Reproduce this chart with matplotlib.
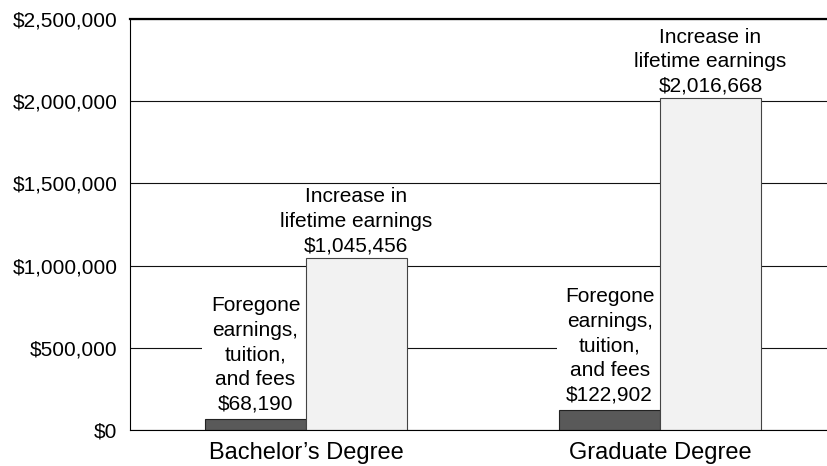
import matplotlib
matplotlib.use("Agg")
import matplotlib.pyplot as plt
import numpy as np
from matplotlib.ticker import FuncFormatter, MultipleLocator

plt.rcParams["font.family"] = ["Liberation Sans", "DejaVu Sans"]

# ── data ──────────────────────────────────────────────
degrees = ["Bachelor\u2019s Degree", "Graduate Degree"]
cost = [68190, 122902]
gain = [1045456, 2016668]
cost_label = "Foregone\nearnings,\ntuition,\nand fees"
gain_label = "Increase in\nlifetime earnings"

# ── figure ────────────────────────────────────────────
fig = plt.figure(figsize=(8.28, 4.66), dpi=100)
ax = fig.add_axes([130 / 828, 36 / 466, 700 / 828, 411 / 466])

x = np.arange(len(degrees))
w = 0.285
bars_cost = ax.bar(x - w / 2, cost, w, color="#595959", edgecolor="#222222", linewidth=0.8, zorder=1)
bars_gain = ax.bar(x + w / 2, gain, w, color="#f2f2f2", edgecolor="#444444", linewidth=0.8, zorder=1)

for b, v in zip(bars_cost, cost):
    ax.annotate(f"{cost_label}\n${v:,.0f}", xy=(b.get_x() + b.get_width() / 2, v),
                xytext=(0, 4), textcoords="offset points", ha="center", va="bottom",
                multialignment="center", fontsize=15, linespacing=1.37, zorder=0.9,
                bbox=dict(facecolor="white", edgecolor="none", pad=6))
for b, v in zip(bars_gain, gain):
    ax.annotate(f"{gain_label}\n${v:,.0f}", xy=(b.get_x() + b.get_width() / 2, v),
                xytext=(0, 2), textcoords="offset points", ha="center", va="bottom",
                multialignment="center", fontsize=15, linespacing=1.37, zorder=3)

ax.set_ylim(0, 2500000)
ax.set_xlim(-0.497, 1.48)
ax.yaxis.set_major_locator(MultipleLocator(500000))
ax.yaxis.set_major_formatter(FuncFormatter(lambda v, p: f"${v:,.0f}"))
ax.set_xticks(x)
ax.set_xticklabels(degrees)
ax.tick_params(axis="y", length=0, pad=9, labelsize=15)
ax.tick_params(axis="x", length=0, pad=9, labelsize=17)

ax.set_axisbelow(True)
ax.grid(axis="y", color="#111111", linewidth=0.8)
ax.spines["right"].set_visible(False)
ax.spines["top"].set_linewidth(1.6)
ax.spines["left"].set_linewidth(0.8)
ax.spines["bottom"].set_linewidth(0.8)

fig.savefig("out.png", dpi=100)
